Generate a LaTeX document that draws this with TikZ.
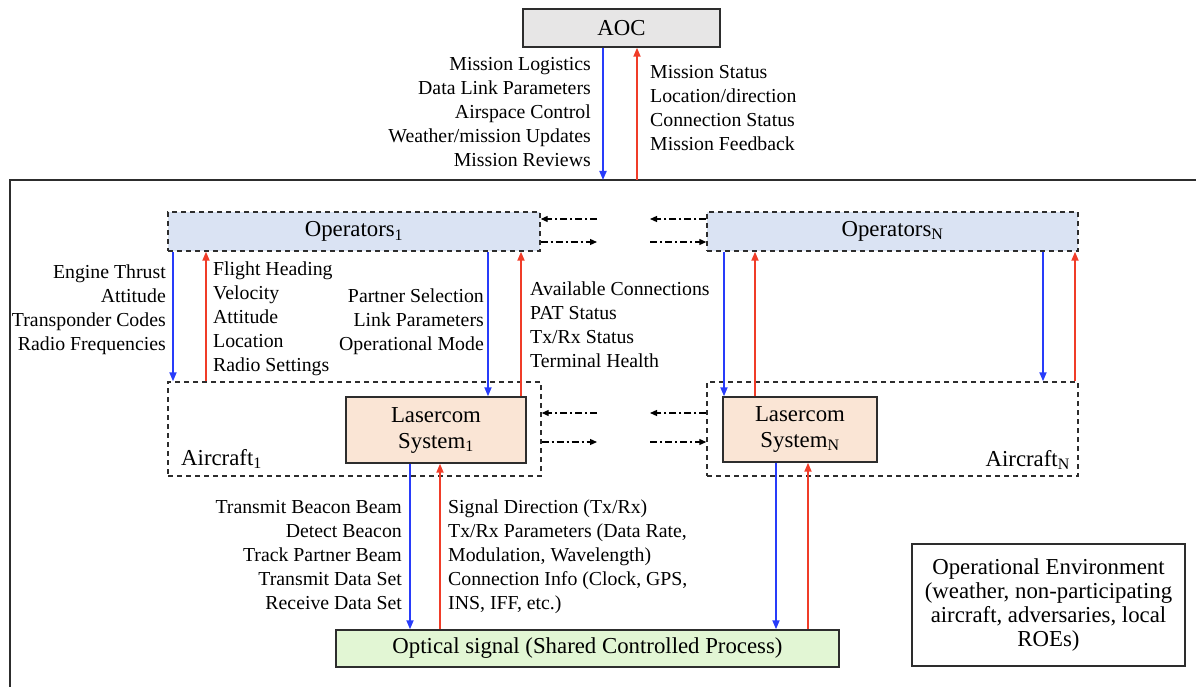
\documentclass[tikz,border=0pt]{standalone}
\usepackage{fontspec}
\setmainfont{Liberation Serif}
\usetikzlibrary{arrows.meta}

\definecolor{aocgray}{RGB}{231,230,230}
\definecolor{opsblue}{RGB}{218,227,243}
\definecolor{laspeach}{RGB}{250,229,213}
\definecolor{optgreen}{RGB}{226,246,212}
\definecolor{cmdblue}{RGB}{40,60,250}
\definecolor{fbred}{RGB}{240,60,40}
\definecolor{edgegray}{RGB}{45,45,45}

\newcommand{\diagboxfont}{\fontsize{22.8}{26}\selectfont}
\newcommand{\diagenvfont}{\fontsize{22.8}{24}\selectfont}
\newcommand{\diaglblfont}{\fontsize{19.8}{24}\selectfont}

\tikzset{
    box/.style={draw=edgegray, line width=1.4pt, inner sep=0pt, font=\diagboxfont},
    dashbox/.style={draw=edgegray, line width=1.4pt, dash pattern=on 5pt off 4pt, inner sep=0pt, font=\diagboxfont},
    lbl/.style={inner sep=0pt, font=\diaglblfont},
    cmd/.style={color=cmdblue, line width=1.8pt, -{Triangle[length=9pt,width=7pt]}},
    fb/.style={color=fbred, line width=1.8pt, -{Triangle[length=9pt,width=7pt]}},
    peer/.style={line width=1.2pt, dash pattern=on 7pt off 3pt on 2pt off 3pt, -{Triangle[length=7pt,width=6pt]}}
}

\begin{document}
\begin{tikzpicture}[x=1pt, y=-1pt]
    \useasboundingbox (0,0) rectangle (1196,687);
    \draw[line width=1.4pt, edgegray] (10,700) -- (10,180) -- (1210,180);
    \coordinate (ftop) at (600,180);

    \node[box, fill=aocgray, minimum width=197, minimum height=38] (aoc) at (621.5,28) {AOC};
    \node[dashbox, fill=opsblue, minimum width=372, minimum height=39] (ops1) at (354,231.5) {Operators\textsubscript{1}};
    \node[dashbox, fill=opsblue, minimum width=371, minimum height=39] (opsN) at (892.5,231.5) {Operators\textsubscript{N}};
    \node[dashbox, minimum width=373, minimum height=94] (air1) at (354.5,429) {};
    \node[dashbox, minimum width=371, minimum height=94] (airN) at (892.5,429) {};
    \node[box, fill=laspeach, minimum width=180, minimum height=66, align=center] (las1) at (436,430) {Lasercom\\System\textsubscript{1}};
    \node[box, fill=laspeach, minimum width=154, minimum height=65, align=center] (lasN) at (800,429.5) {Lasercom\\System\textsubscript{N}};
    \node[box, fill=optgreen, minimum width=503, minimum height=37] (opt) at (587.5,648.5) {Optical signal (Shared Controlled Process)};
    \node[box, line width=1.2pt, font=\diagenvfont, minimum width=273, minimum height=122, align=center] (env) at (1048.5,605) {Operational Environment\\(weather, non-participating\\aircraft, adversaries, local\\ROEs)};

    \node[lbl, font=\diagboxfont, anchor=west] (air1lbl) at (181,459) {Aircraft\textsubscript{1}};
    \node[lbl, font=\diagboxfont, anchor=east] (airNlbl) at (1070,460) {Aircraft\textsubscript{N}};

    \node[lbl, anchor=east, align=right] (aocdown) at (591,112.5) {Mission Logistics\\Data Link Parameters\\Airspace Control\\Weather/mission Updates\\Mission Reviews};
    \node[lbl, anchor=west, align=left] (aocup) at (650,108.5) {Mission Status\\Location/direction\\Connection Status\\Mission Feedback};
    \node[lbl, anchor=east, align=right] (acdown) at (166,310) {Engine Thrust\hspace{3pt}\\Attitude\\Transponder Codes\\Radio Frequencies};
    \node[lbl, anchor=west, align=left] (acup) at (213,318.5) {Flight Heading\\Velocity\\Attitude\\Location\\Radio Settings};
    \node[lbl, anchor=east, align=right] (lcdown) at (484,322) {Partner Selection\\Link Parameters\\Operational Mode};
    \node[lbl, anchor=west, align=left] (lcup) at (530,325) {Available Connections\\PAT Status\\Tx/Rx Status\\Terminal Health};
    \node[lbl, anchor=east, align=right] (optdown) at (402,555.5) {Transmit Beacon Beam\\Detect Beacon\\Track Partner Beam\\Transmit Data Set\\Receive Data Set};
    \node[lbl, anchor=west, align=left] (optup) at (448,557) {Signal Direction (Tx/Rx)\\Tx/Rx Parameters (Data Rate,\\Modulation, Wavelength)\\Connection Info (Clock, GPS,\\INS, IFF, etc.)};

    \draw[cmd] (aoc.south -| 603,0) -- (ftop -| 603,0);
    \draw[fb] (ftop -| 637,0) -- (aoc.south -| 637,0);

    \draw[cmd] (ops1.south -| 173,0) -- (air1.north -| 173,0);
    \draw[fb] (air1.north -| 206,0) -- (ops1.south -| 206,0);
    \draw[cmd] (ops1.south -| 488,0) -- (las1.north -| 488,0);
    \draw[fb] (las1.north -| 521,0) -- (ops1.south -| 521,0);

    \draw[cmd] (opsN.south -| 724,0) -- (lasN.north -| 724,0);
    \draw[fb] (lasN.north -| 755,0) -- (opsN.south -| 755,0);
    \draw[cmd] (opsN.south -| 1043,0) -- (airN.north -| 1043,0);
    \draw[fb] (airN.north -| 1075,0) -- (opsN.south -| 1075,0);

    \draw[cmd] (las1.south -| 410,0) -- (opt.north -| 410,0);
    \draw[fb] (opt.north -| 440,0) -- (las1.south -| 440,0);
    \draw[cmd] (lasN.south -| 776,0) -- (opt.north -| 776,0);
    \draw[fb] (opt.north -| 808,0) -- (lasN.south -| 808,0);

    \coordinate (pTL) at (597,219);
    \coordinate (pBL) at (597,242);
    \coordinate (pTR) at (650,219);
    \coordinate (pBR) at (650,242);
    \draw[peer] (pTL) -- (pTL -| ops1.east);
    \draw[peer] (pBL -| ops1.east) -- (pBL);
    \draw[peer] (pTR -| opsN.west) -- (pTR);
    \draw[peer] (pBR) -- (pBR -| opsN.west);

    \coordinate (aTL) at (597,413);
    \coordinate (aBL) at (597,442);
    \coordinate (aTR) at (650,413);
    \coordinate (aBR) at (650,442);
    \draw[peer] (aTL) -- (aTL -| air1.east);
    \draw[peer] (aBL -| air1.east) -- (aBL);
    \draw[peer] (aTR -| airN.west) -- (aTR);
    \draw[peer] (aBR) -- (aBR -| airN.west);
\end{tikzpicture}
\end{document}
